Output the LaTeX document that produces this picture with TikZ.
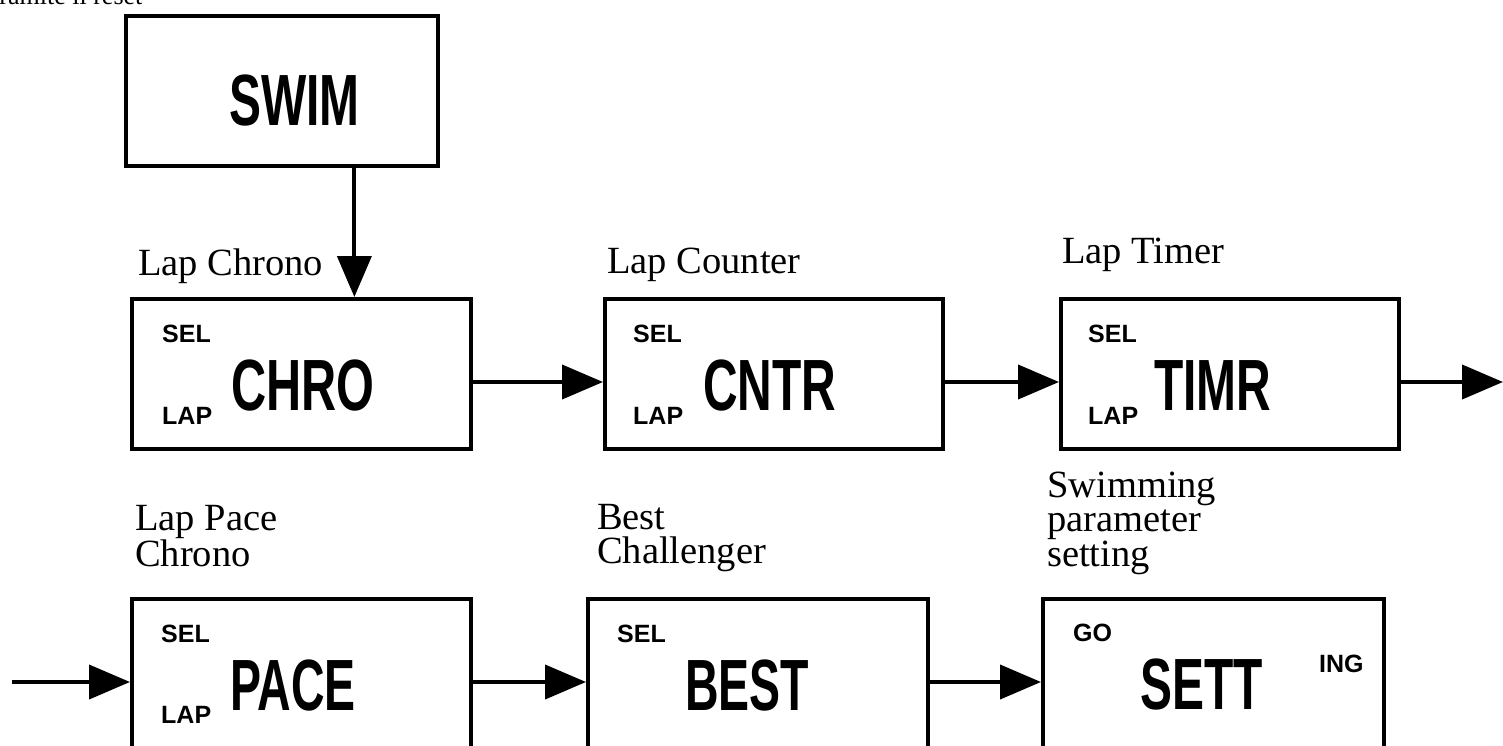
\documentclass[tikz,border=0pt]{standalone}
\usepackage{fontspec}
\setmainfont{Liberation Serif}
\newfontfamily\boxfont{Liberation Sans}
\usetikzlibrary{arrows.meta,calc}
\begin{document}
\begin{tikzpicture}[x=1pt,y=-1pt,
  box/.style={draw, line width=4pt, anchor=north west, inner sep=0pt,
    minimum height=150pt},
  lbl/.style={anchor=base west, inner sep=0pt, align=left,
    font=\fontsize{38.5}{33.5}\selectfont},
  big/.style={anchor=base west, inner sep=0pt,
    font=\boxfont\bfseries\fontsize{72.6}{80}\selectfont},
  small/.style={anchor=base west, inner sep=0pt,
    font=\boxfont\bfseries\fontsize{25}{28}\selectfont},
  arr/.style={line width=4pt, -{Triangle[length=41pt,width=34pt]}}]
\useasboundingbox (0,0) rectangle (1503,746);

% cut-off heading
\node[anchor=base west, inner sep=0pt, font=\fontsize{26}{30}\selectfont] (head) at (-8,5) {tramite il reset};

% boxes
\node[box, minimum width=312pt] (swim) at (124,14) {};
\node[box, minimum width=339pt] (chro) at (130,297) {};
\node[box, minimum width=338pt] (cntr) at (603,297) {};
\node[box, minimum width=338pt] (timr) at (1059,297) {};
\node[box, minimum width=339pt, minimum height=160pt] (pace) at (130,597) {};
\node[box, minimum width=340pt, minimum height=160pt] (best) at (586,597) {};
\node[box, minimum width=341pt, minimum height=160pt] (sett) at (1041,597) {};

% box texts
\node[big] (tswim) at (229,126) {\scalebox{0.66}[1]{SWIM}};
\node[big] (tchro) at (231,410) {\scalebox{0.67}[1]{CHRO}};
\node[big] (tcntr) at (703,410) {\scalebox{0.66}[1]{CNTR}};
\node[big] (ttimr) at (1154,410) {\scalebox{0.66}[1]{TIMR}};
\node[big] (tpace) at (230,710) {\scalebox{0.64}[1]{PACE}};
\node[big] (tbest) at (685,710) {\scalebox{0.64}[1]{BEST}};
\node[big] (tsett) at (1140,709) {\scalebox{0.66}[1]{SETT}};

\node[small] (s1) at (162,342) {SEL};
\node[small] (l1) at (162,424) {LAP};
\node[small] (s2) at (633,342) {SEL};
\node[small] (l2) at (633,424) {LAP};
\node[small] (s3) at (1088,342) {SEL};
\node[small] (l3) at (1088,424) {LAP};
\node[small] (s4) at (161,642) {SEL};
\node[small] (l4) at (161,723) {LAP};
\node[small] (s5) at (617,642) {SEL};
\node[small] (g6) at (1073,641) {GO};
\node[small] (i6) at (1319,672) {ING};

% captions (base = last line)
\node[lbl] (cchro) at (138,275) {Lap Chrono};
\node[lbl] (ccntr) at (607,273) {Lap Counter};
\node[lbl] (ctimr) at (1062,263) {Lap Timer};
\node[lbl] (cpace) at (135,566) {Lap Pace\\Chrono};
\node[lbl] (cbest) at (597,563) {Best\\Challenger};
\node[lbl] (csett) at (1047,566) {Swimming\\parameter\\setting};

% connectors
\coordinate (sd) at ($(swim.south west)!0.729!(swim.south east)$);
\draw[arr] (sd) -- (sd |- chro.north);
\draw[arr] ([yshift=-8pt]chro.east) -- ([yshift=-8pt]cntr.west);
\draw[arr] ([yshift=-8pt]cntr.east) -- ([yshift=-8pt]timr.west);
\coordinate (out) at ([yshift=-8pt]timr.east -| 1503,0);
\draw[arr] ([yshift=-8pt]timr.east) -- (out);
\coordinate (in) at ([yshift=-3pt]pace.west -| 12,0);
\draw[arr] (in) -- ([yshift=-3pt]pace.west);
\draw[arr] ([yshift=-3pt]pace.east) -- ([yshift=-3pt]best.west);
\draw[arr] ([yshift=-3pt]best.east) -- ([yshift=-3pt]sett.west);
\end{tikzpicture}
\end{document}
